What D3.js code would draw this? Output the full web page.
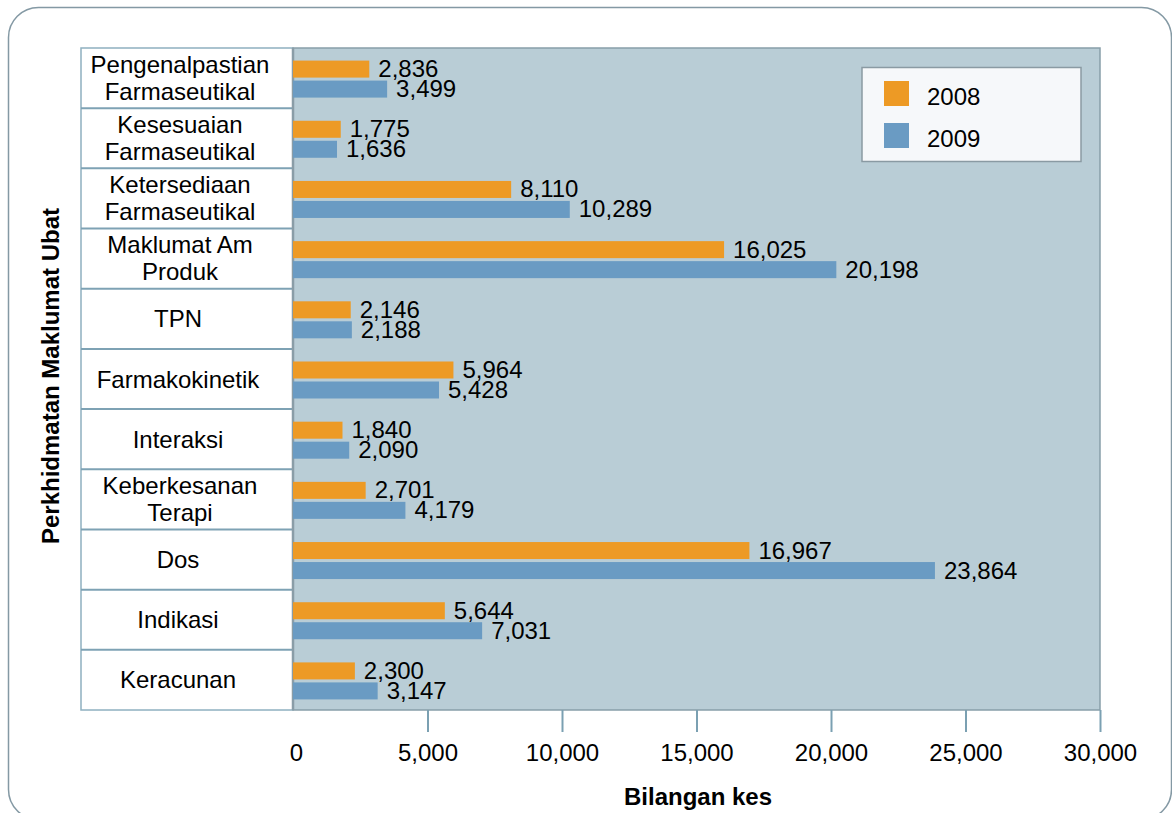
<!DOCTYPE html>
<html>
<head>
<meta charset="utf-8">
<script src="https://cdn.jsdelivr.net/npm/d3@7"></script>
<style>
  html, body { margin: 0; padding: 0; background: #ffffff; }
  svg { display: block; }
  text { font-family: "Liberation Sans", Arial, sans-serif; fill: #000; }
</style>
</head>
<body>
<svg id="chart" width="1172" height="813"></svg>
<script>
// ---- Data ----
const categories = [
  "Pengenalpastian Farmaseutikal",
  "Kesesuaian Farmaseutikal",
  "Ketersediaan Farmaseutikal",
  "Maklumat Am Produk",
  "TPN",
  "Farmakokinetik",
  "Interaksi",
  "Keberkesanan Terapi",
  "Dos",
  "Indikasi",
  "Keracunan"
];
const categoryLines = [
  ["Pengenalpastian", "Farmaseutikal"],
  ["Kesesuaian", "Farmaseutikal"],
  ["Ketersediaan", "Farmaseutikal"],
  ["Maklumat Am", "Produk"],
  ["TPN"],
  ["Farmakokinetik"],
  ["Interaksi"],
  ["Keberkesanan", "Terapi"],
  ["Dos"],
  ["Indikasi"],
  ["Keracunan"]
];
const seriesNames = ["2008", "2009"];
const values2008 = [2836, 1775, 8110, 16025, 2146, 5964, 1840, 2701, 16967, 5644, 2300];
const values2009 = [3499, 1636, 10289, 20198, 2188, 5428, 2090, 4179, 23864, 7031, 3147];
const xTicks = [0, 5000, 10000, 15000, 20000, 25000, 30000];
const xTitle = "Bilangan kes";
const yTitle = "Perkhidmatan Maklumat Ubat";

// ---- Styling ----
const colors = { "2008": "#ed9a25", "2009": "#6a9bc3" };
const FS = 24;
const svg = d3.select("#chart");

// outer rounded frame
svg.append("rect")
  .attr("x", 8.5).attr("y", 7.5).attr("width", 1163).attr("height", 812)
  .attr("rx", 30).attr("ry", 30)
  .attr("fill", "#fff").attr("stroke", "#8499a4").attr("stroke-width", 1.5);

const plotLeft = 293, plotRight = 1100, plotTop = 48, plotBottom = 710;
const tableLeft = 81;

const x = d3.scaleLinear().domain([0, 30000]).range([plotLeft, plotRight]);
const y = d3.scaleBand().domain(categories).range([plotTop, plotBottom]).paddingInner(0).paddingOuter(0);

// label table
svg.append("rect")
  .attr("x", tableLeft).attr("y", plotTop)
  .attr("width", plotLeft - tableLeft).attr("height", plotBottom - plotTop)
  .attr("fill", "#fff").attr("stroke", "#8fb0c0").attr("stroke-width", 1.5);

// plot background
svg.append("rect")
  .attr("x", plotLeft).attr("y", plotTop)
  .attr("width", plotRight - plotLeft).attr("height", plotBottom - plotTop)
  .attr("fill", "#b9cdd6").attr("stroke", "#889ea9").attr("stroke-width", 1.5);

// row separators in table
svg.append("g").selectAll("line")
  .data(categories.slice(1))
  .join("line")
  .attr("x1", tableLeft).attr("x2", plotLeft)
  .attr("y1", d => y(d)).attr("y2", d => y(d))
  .attr("stroke", "#7ea2b4").attr("stroke-width", 2);

// category labels
const labG = svg.append("g");
categories.forEach((c, i) => {
  const cy = y(c) + y.bandwidth() / 2;
  const lines = categoryLines[i];
  const t = labG.append("text")
    .attr("text-anchor", "middle")
    .attr("font-size", FS);
  if (lines.length === 1) {
    t.append("tspan").attr("x", 178).attr("y", cy + 8.5).text(lines[0]);
  } else {
    t.append("tspan").attr("x", 180).attr("y", cy - 5.5).text(lines[0]);
    t.append("tspan").attr("x", 180).attr("y", cy + 21.5).text(lines[1]);
  }
});

// left plot border emphasised
svg.append("line")
  .attr("x1", plotLeft).attr("x2", plotLeft)
  .attr("y1", plotTop).attr("y2", plotBottom)
  .attr("stroke", "#8a9da7").attr("stroke-width", 2.5);

// bars
const fmt = d3.format(",");
const barH = 17;
const rows = categories.map((c, i) => ({ c, v2008: values2008[i], v2009: values2009[i] }));
const barG = svg.append("g");
rows.forEach(r => {
  const cy = y(r.c) + y.bandwidth() / 2 + 1;
  const specs = [
    { key: "2008", v: r.v2008, y0: cy - 1.5 - barH },
    { key: "2009", v: r.v2009, y0: cy + 1.5 }
  ];
  specs.forEach(s => {
    barG.append("rect")
      .attr("x", x(0)).attr("y", s.y0)
      .attr("width", x(s.v) - x(0)).attr("height", barH)
      .attr("fill", colors[s.key]);
    barG.append("text")
      .attr("x", x(s.v) + 9).attr("y", s.y0 + barH - 0.5)
      .attr("font-size", FS)
      .text(fmt(s.v));
  });
});

// x axis
const axis = d3.axisBottom(x).tickValues(xTicks).tickFormat(fmt).tickSize(22).tickPadding(12);
const axG = svg.append("g").attr("transform", `translate(0,${plotBottom})`).call(axis);
axG.select(".domain").remove();
axG.selectAll(".tick line").attr("stroke", "#7ba0b2").attr("stroke-width", 2)
  .attr("display", d => d === 0 ? "none" : null);
axG.selectAll(".tick text")
  .attr("font-size", FS)
  .attr("font-family", '"Liberation Sans", Arial, sans-serif')
  .attr("fill", "#000")
  .attr("dx", d => d === 0 ? 3 : 0);

// axis titles
svg.append("text")
  .attr("x", 698).attr("y", 805)
  .attr("text-anchor", "middle")
  .attr("font-size", FS).attr("font-weight", "bold")
  .text(xTitle);

svg.append("text")
  .attr("transform", "translate(59,376) rotate(-90)")
  .attr("text-anchor", "middle")
  .attr("font-size", FS).attr("font-weight", "bold")
  .text(yTitle);

// legend
const lg = svg.append("g");
lg.append("rect")
  .attr("x", 862).attr("y", 67.5).attr("width", 219).attr("height", 94)
  .attr("fill", "#f6f8fa").attr("stroke", "#8a9aa3").attr("stroke-width", 1.5);
seriesNames.forEach((s, i) => {
  lg.append("rect")
    .attr("x", 884).attr("y", 81 + i * 42).attr("width", 25).attr("height", 25)
    .attr("fill", colors[s]);
  lg.append("text")
    .attr("x", 927).attr("y", 104.5 + i * 42)
    .attr("font-size", FS)
    .text(s);
});
</script>
</body>
</html>
